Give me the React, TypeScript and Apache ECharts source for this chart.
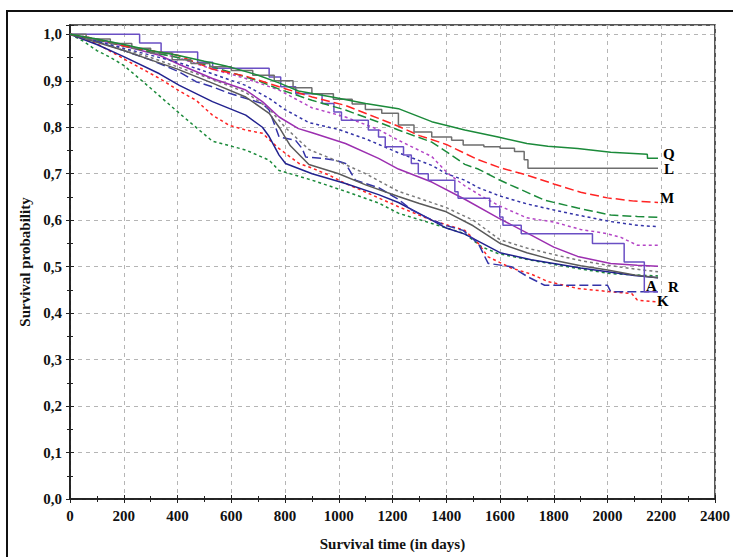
import React, { useEffect, useRef } from "react";
import * as echarts from "echarts";

// Survival curves: [day, probability]
const curveQ = [[0,1],[100,0.99],[200,0.978],[300,0.965],[400,0.955],[500,0.942],[580,0.932],[700,0.912],[780,0.895],[850,0.878],[975,0.865],[1100,0.851],[1222,0.84],[1346,0.812],[1469,0.794],[1593,0.779],[1700,0.765],[1778,0.759],[1889,0.754],[2012,0.746],[2148,0.742],[2149,0.733],[2188,0.733]];
const curveL = [[0,1],[60,0.99],[150,0.98],[230,0.97],[300,0.96],[380,0.945],[450,0.937],[520,0.93],[600,0.922],[680,0.912],[760,0.9],[830,0.885],[900,0.872],[980,0.86],[1050,0.85],[1099,0.838],[1160,0.83],[1222,0.805],[1280,0.79],[1346,0.779],[1420,0.772],[1463,0.762],[1540,0.758],[1600,0.755],[1654,0.748],[1690,0.73],[1704,0.712],[2188,0.712]];
const curveM = [[0,1],[100,0.99],[200,0.975],[300,0.965],[400,0.955],[530,0.925],[654,0.91],[778,0.887],[901,0.865],[1025,0.847],[1148,0.819],[1222,0.802],[1300,0.782],[1400,0.763],[1519,0.73],[1600,0.713],[1700,0.697],[1800,0.678],[1900,0.66],[2000,0.648],[2100,0.641],[2188,0.638]];
const curveGreenDash = [[0,1],[100,0.988],[200,0.975],[300,0.962],[400,0.95],[530,0.93],[700,0.9],[778,0.882],[900,0.858],[1025,0.837],[1148,0.811],[1222,0.794],[1346,0.768],[1407,0.745],[1469,0.72],[1519,0.71],[1593,0.688],[1642,0.675],[1766,0.643],[1889,0.626],[2012,0.611],[2111,0.608],[2188,0.606]];
const curveA = [[0,1],[259,0.981],[339,0.962],[475,0.94],[531,0.927],[741,0.908],[784,0.887],[840,0.872],[938,0.851],[982,0.833],[1010,0.815],[1110,0.794],[1148,0.779],[1173,0.758],[1241,0.74],[1270,0.722],[1296,0.7],[1333,0.686],[1432,0.661],[1444,0.647],[1562,0.629],[1599,0.607],[1611,0.589],[1679,0.571],[1944,0.55],[2062,0.51],[2137,0.446],[2188,0.446]];
const curveBlueShort = [[0,1],[100,0.985],[200,0.97],[300,0.955],[400,0.94],[530,0.915],[654,0.89],[741,0.862],[800,0.838],[889,0.81],[1000,0.795],[1100,0.775],[1222,0.745],[1346,0.718],[1400,0.7],[1469,0.686],[1519,0.67],[1600,0.652],[1700,0.635],[1800,0.622],[1889,0.611],[2012,0.597],[2111,0.589],[2188,0.586]];
const curvePurpleDash = [[0,1],[100,0.99],[200,0.977],[300,0.963],[400,0.95],[530,0.925],[654,0.905],[778,0.88],[900,0.842],[1025,0.822],[1148,0.795],[1222,0.772],[1346,0.737],[1407,0.7],[1469,0.674],[1531,0.652],[1593,0.632],[1700,0.605],[1800,0.596],[1900,0.58],[1989,0.572],[2050,0.563],[2111,0.546],[2188,0.546]];
const curveMagenta = [[0,1],[100,0.988],[200,0.975],[333,0.955],[407,0.935],[530,0.905],[654,0.88],[716,0.855],[778,0.822],[850,0.797],[901,0.788],[1025,0.765],[1148,0.733],[1222,0.71],[1346,0.682],[1469,0.645],[1593,0.605],[1716,0.568],[1800,0.542],[1889,0.522],[2012,0.507],[2111,0.503],[2188,0.501]];
const curveGrayDash = [[0,1],[100,0.985],[200,0.968],[300,0.95],[400,0.93],[530,0.903],[654,0.875],[741,0.84],[800,0.8],[889,0.752],[1000,0.726],[1100,0.7],[1222,0.662],[1300,0.647],[1400,0.627],[1500,0.6],[1600,0.558],[1700,0.54],[1800,0.526],[1900,0.513],[2000,0.503],[2100,0.495],[2188,0.489]];
const curveGraySolid = [[0,1],[100,0.983],[200,0.965],[300,0.945],[400,0.925],[530,0.895],[654,0.865],[741,0.83],[778,0.8],[820,0.76],[889,0.72],[1000,0.7],[1100,0.676],[1222,0.651],[1300,0.636],[1400,0.618],[1500,0.588],[1600,0.55],[1700,0.53],[1800,0.514],[1900,0.502],[2000,0.493],[2100,0.482],[2188,0.476]];
const curveR = [[0,1],[100,0.985],[200,0.965],[300,0.945],[407,0.919],[469,0.898],[530,0.887],[593,0.873],[716,0.851],[741,0.837],[765,0.8],[778,0.779],[839,0.772],[864,0.754],[877,0.736],[938,0.733],[988,0.729],[1025,0.722],[1062,0.686],[1148,0.67],[1222,0.645],[1271,0.622],[1333,0.604],[1396,0.589],[1463,0.578],[1519,0.55],[1556,0.507],[1642,0.5],[1704,0.478],[1766,0.46],[2000,0.46],[2012,0.446],[2188,0.446]];
const curveNavy = [[0,1],[100,0.978],[200,0.952],[333,0.915],[407,0.89],[530,0.855],[654,0.826],[716,0.8],[741,0.78],[778,0.74],[802,0.722],[901,0.7],[1025,0.679],[1148,0.655],[1222,0.638],[1346,0.6],[1400,0.583],[1469,0.57],[1600,0.53],[1716,0.515],[1800,0.507],[1900,0.497],[2000,0.489],[2100,0.481],[2188,0.476]];
const curveK = [[0,1],[100,0.98],[210,0.944],[333,0.905],[407,0.878],[469,0.858],[530,0.826],[593,0.804],[654,0.794],[716,0.787],[778,0.754],[852,0.722],[901,0.712],[963,0.697],[1025,0.679],[1086,0.664],[1148,0.648],[1222,0.629],[1346,0.6],[1469,0.578],[1519,0.55],[1556,0.521],[1642,0.497],[1716,0.484],[1778,0.468],[1889,0.453],[2012,0.446],[2090,0.442],[2111,0.428],[2188,0.424]];
const curveGreenShort = [[0,1],[50,0.985],[100,0.965],[148,0.951],[200,0.933],[296,0.886],[407,0.83],[530,0.77],[654,0.751],[741,0.729],[778,0.707],[901,0.686],[1025,0.662],[1148,0.637],[1222,0.615],[1346,0.593],[1469,0.571],[1531,0.543],[1593,0.528],[1716,0.514],[1800,0.505],[1889,0.496],[2012,0.485],[2111,0.482],[2188,0.48]];

const xTitle = "Survival time (in days)";
const yTitle = "Survival probability";

const FONT = "Liberation Serif";
const GREEN = "#1b8a3a";
const GRAY = "#6e6e6e";
const RED = "#ff2323";
const SLATE = "#6a4fc4";
const BLUE = "#3434a8";
const PURPLE = "#b445c6";
const MAGENTA = "#9c2fb0";
const NAVY = "#22228f";
const LONG = [9, 4];
const SHORT = [3, 3];

function mk(data: number[][], color: string, type: any, opts: any = {}) {
  return {
    type: "line",
    data,
    showSymbol: false,
    symbol: "none",
    lineStyle: { color, width: 1.5, type },
    silent: true,
    ...opts,
  };
}

function endLbl(text: string, offset: number[]) {
  return {
    endLabel: {
      show: true,
      formatter: text,
      offset,
      distance: 5,
      fontFamily: FONT,
      fontWeight: "bold",
      fontSize: 15,
      color: "#000",
    },
  };
}

export default function App() {
  const ref = useRef<HTMLDivElement>(null);
  useEffect(() => {
    if (!ref.current) return;
    const chart = echarts.init(ref.current, null, { renderer: "svg" });
    const tickLabel = {
      fontFamily: FONT,
      fontWeight: "bold" as const,
      fontSize: 15,
      color: "#111",
    };
    const splitLine = { show: true, lineStyle: { color: "#b5b5b5", type: [4, 4], width: 1 } };
    const axLine = { show: true, lineStyle: { color: "#222", width: 1.5 } };
    const tick = { show: true, inside: true, length: 4, lineStyle: { color: "#222" } };
    const minor = { show: true, splitNumber: 2, length: 3, lineStyle: { color: "#222" } };
    chart.setOption({
      animation: false,
      grid: { left: 70, right: 15, top: 25, bottom: 58, show: true, borderColor: "#222", borderWidth: 1.5 },
      graphic: [
        {
          type: "rect",
          shape: { x: 7, y: 11, width: 800, height: 600 },
          style: { fill: "none", stroke: "#111", lineWidth: 2 },
          silent: true,
        },
      ],
      xAxis: [
        {
          type: "value",
          min: 0,
          max: 2400,
          interval: 200,
          axisLine: axLine,
          axisTick: tick,
          minorTick: { ...minor },
          splitLine,
          axisLabel: { ...tickLabel, margin: 9, formatter: (v: number) => String(Math.round(v)) },
          name: xTitle,
          nameLocation: "middle",
          nameGap: 37,
          nameTextStyle: { fontFamily: FONT, fontWeight: "bold", fontSize: 15, color: "#111" },
        },
        {
          type: "value",
          position: "top",
          min: 0,
          max: 2400,
          interval: 200,
          axisLine: axLine,
          axisTick: tick,
          minorTick: { ...minor },
          splitLine: { show: false },
          axisLabel: { show: false },
        },
      ],
      yAxis: [
        {
          type: "value",
          min: 0,
          max: 1.02,
          interval: 0.1,
          axisLine: axLine,
          axisTick: tick,
          minorTick: { ...minor },
          splitLine,
          axisLabel: {
            ...tickLabel,
            margin: 8,
            formatter: (v: number) => (v > 1.001 ? "" : v.toFixed(1).replace(".", ",")),
          },
          name: yTitle,
          nameLocation: "middle",
          nameGap: 38,
          nameRotate: 90,
          nameTextStyle: { fontFamily: FONT, fontWeight: "bold", fontSize: 15, color: "#111" },
        },
        {
          type: "value",
          position: "right",
          min: 0,
          max: 1.02,
          interval: 0.1,
          axisLine: axLine,
          axisTick: tick,
          minorTick: { ...minor },
          splitLine: { show: false },
          axisLabel: { show: false },
        },
      ],
      series: [
        mk(curveGreenShort, GREEN, SHORT),
        mk(curveK, RED, SHORT, endLbl("K", [-6, -1])),
        mk(curveNavy, NAVY, "solid"),
        mk(curveR, BLUE, LONG, endLbl("R", [5, -5])),
        mk(curveGraySolid, "#5a5a5a", "solid"),
        mk(curveGrayDash, "#7a7a7a", SHORT),
        mk(curveMagenta, MAGENTA, "solid"),
        mk(curvePurpleDash, PURPLE, SHORT),
        mk(curveBlueShort, BLUE, SHORT),
        mk(curveA, SLATE, "solid", { step: "end", ...endLbl("A", [-17, -6]) }),
        mk(curveGreenDash, GREEN, LONG),
        mk(curveM, RED, LONG, endLbl("M", [-3, -5])),
        mk(curveL, GRAY, "solid", { step: "end", ...endLbl("L", [1, 1]) }),
        mk(curveQ, GREEN, "solid", endLbl("Q", [0, -4])),
      ],
    });
    return () => chart.dispose();
  }, []);
  return (
    <div
      ref={ref}
      style={{ position: "fixed", left: 0, top: 0, width: 733, height: 557, background: "#fff" }}
    />
  );
}
